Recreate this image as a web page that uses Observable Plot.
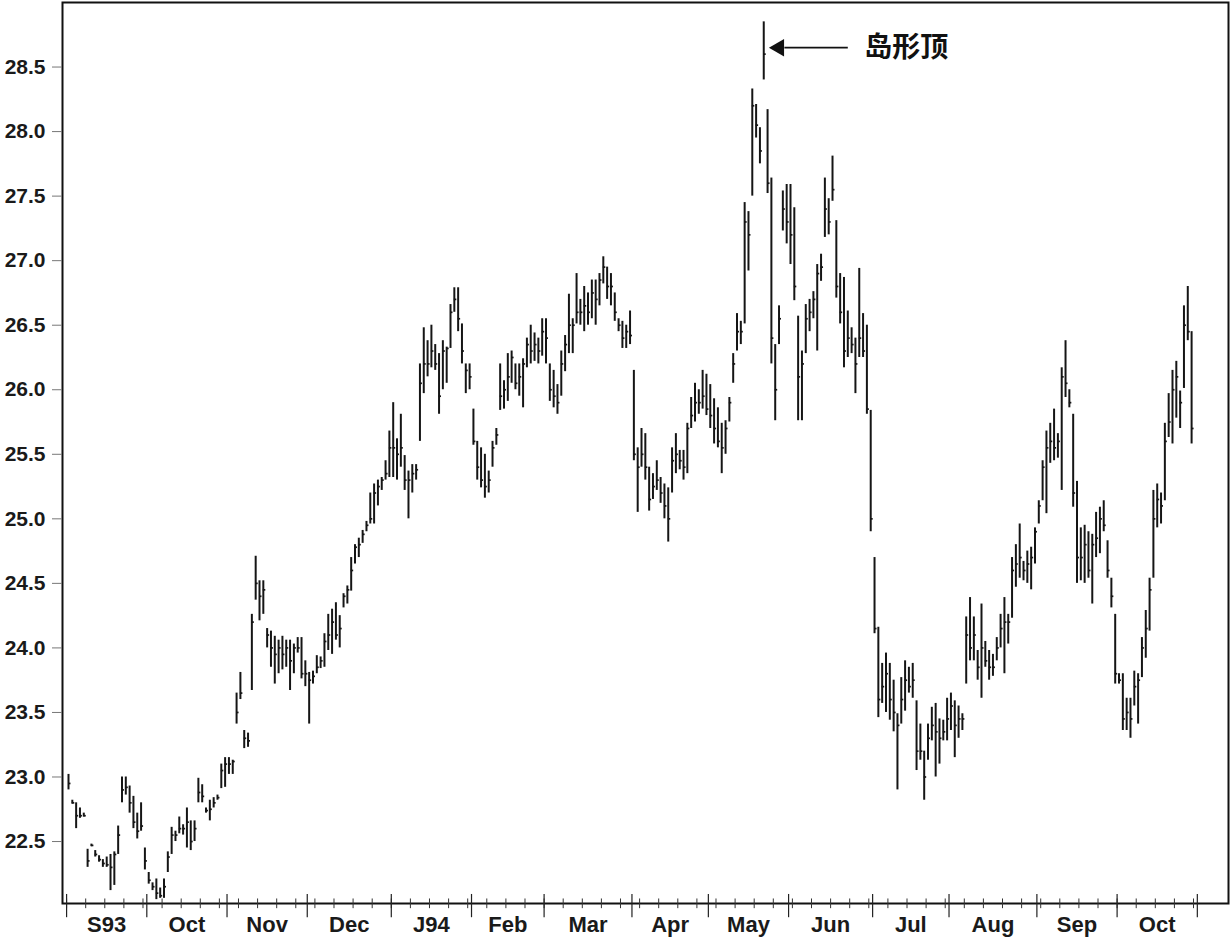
<!DOCTYPE html>
<html>
<head>
<meta charset="utf-8">
<script src="https://cdn.jsdelivr.net/npm/d3@7"></script>
<script src="https://cdn.jsdelivr.net/npm/@observablehq/plot@0.6"></script>
<style>
  html, body { margin: 0; padding: 0; background: #fff; }
  #chart svg { display: block; }
</style>
</head>
<body>
<div id="chart"></div>
<script>
// Month labels and trading days per month (Sep 1993 – Oct 1994)
const monthLabels = ["S93","Oct","Nov","Dec","J94","Feb","Mar","Apr","May","Jun","Jul","Aug","Sep","Oct"];
const monthDays   = [21, 21, 21, 22, 21, 19, 23, 20, 21, 22, 20, 23, 21, 21];
const yTicks = [22.5, 23.0, 23.5, 24.0, 24.5, 25.0, 25.5, 26.0, 26.5, 27.0, 27.5, 28.0, 28.5];

// Daily highs (one row per month)
const high = [
  23.02,22.82,22.80,22.76,22.72,22.44,22.48,22.43,22.39,22.36,22.38,22.40,22.42,22.62,23.00,23.00,22.93,22.85,22.72,22.80,22.45,
  22.26,22.18,22.21,22.14,22.21,22.42,22.61,22.58,22.69,22.63,22.76,22.66,22.66,22.99,22.94,22.76,22.82,22.84,22.86,23.10,23.15,
  23.15,23.13,23.65,23.81,23.36,23.34,24.26,24.71,24.52,24.52,24.15,24.13,24.09,24.06,24.09,24.06,24.06,24.03,24.08,24.08,23.90,
  23.81,23.82,23.94,23.93,24.11,24.26,24.30,24.35,24.25,24.42,24.48,24.70,24.80,24.85,24.91,24.98,25.20,25.27,25.30,25.32,25.45,25.68,
  25.90,25.62,25.81,25.49,25.37,25.42,25.42,26.20,26.48,26.38,26.50,26.35,26.28,26.38,26.33,26.66,26.79,26.79,26.51,26.20,26.20,
  25.85,25.60,25.55,25.50,25.37,25.60,25.70,26.20,26.07,26.28,26.30,26.20,26.20,26.24,26.40,26.50,26.44,26.40,26.55,
  26.55,26.20,26.15,26.04,26.30,26.42,26.74,26.55,26.90,26.70,26.80,26.75,26.85,26.85,26.90,27.03,26.95,26.90,26.75,26.55,26.53,26.50,26.61,
  26.15,25.55,25.70,25.66,25.40,25.35,25.45,25.32,25.27,25.24,25.55,25.66,25.53,25.53,25.74,25.94,26.05,26.00,26.15,26.12,
  26.04,25.93,25.86,25.74,25.76,25.94,26.28,26.59,26.53,27.45,27.38,28.33,28.21,28.03,28.85,28.17,27.64,26.35,26.65,27.54,27.59,
  27.59,27.41,26.57,26.30,26.66,26.70,26.76,26.97,27.05,27.64,27.48,27.81,27.31,26.90,26.87,26.61,26.48,26.40,26.94,26.59,26.50,25.84,
  24.70,24.16,23.88,23.96,23.88,23.75,23.49,23.77,23.90,23.85,23.88,23.59,23.41,23.20,23.41,23.54,23.57,23.45,23.44,23.61,
  23.65,23.59,23.55,23.49,24.24,24.39,24.24,23.98,24.34,24.05,23.98,23.95,24.08,24.26,24.39,24.26,24.70,24.80,24.96,24.67,24.75,24.78,24.93,
  25.14,25.45,25.68,25.74,25.85,25.66,26.17,26.38,26.00,25.81,25.29,24.93,24.95,24.90,24.88,25.05,25.09,25.14,24.83,24.54,24.26,
  23.80,23.80,23.61,23.61,23.82,23.80,24.08,24.29,24.54,25.22,25.27,25.20,25.74,25.97,26.15,26.22,25.99,26.65,26.80,26.45
];
// Daily lows
const low = [
  22.90,22.79,22.60,22.68,22.69,22.30,22.46,22.38,22.34,22.30,22.30,22.12,22.16,22.40,22.80,22.86,22.72,22.60,22.52,22.58,22.28,
  22.17,22.12,22.05,22.06,22.06,22.26,22.40,22.50,22.56,22.55,22.45,22.43,22.50,22.80,22.80,22.72,22.66,22.76,22.82,22.91,22.92,
  23.02,23.02,23.41,23.60,23.22,23.23,23.67,24.37,24.21,24.26,24.00,23.85,23.72,23.80,23.83,23.85,23.67,23.80,23.96,23.76,23.70,
  23.41,23.72,23.80,23.84,23.85,23.98,23.95,24.06,24.00,24.31,24.34,24.44,24.65,24.70,24.81,24.90,24.96,24.96,25.10,25.22,25.30,25.32,
  25.32,25.30,25.40,25.22,25.00,25.20,25.30,25.60,25.97,26.10,26.17,26.15,25.81,26.00,26.05,26.32,26.60,26.45,26.20,25.97,26.00,
  25.57,25.30,25.24,25.16,25.20,25.40,25.57,25.84,25.85,25.91,26.05,26.00,25.95,25.86,26.17,26.20,26.22,26.20,26.26,
  26.20,25.91,25.86,25.81,25.95,26.14,26.28,26.28,26.51,26.50,26.45,26.50,26.55,26.50,26.65,26.82,26.70,26.65,26.53,26.45,26.32,26.32,26.35,
  25.45,25.05,25.40,25.30,25.06,25.15,25.22,25.12,25.00,24.82,25.20,25.35,25.38,25.30,25.35,25.70,25.75,25.81,25.85,25.80,
  25.70,25.58,25.55,25.35,25.50,25.75,26.05,26.30,26.35,26.51,26.92,27.50,27.95,27.75,28.40,27.52,26.20,25.76,26.35,27.23,27.13,
  26.97,26.69,25.76,25.76,26.28,26.45,26.55,26.30,26.84,27.18,27.20,27.46,26.71,26.51,26.17,26.25,26.28,25.97,26.25,26.25,25.81,24.90,
  24.11,23.46,23.57,23.50,23.44,23.35,22.90,23.41,23.51,23.65,23.61,23.05,23.13,22.82,23.13,23.28,23.00,23.10,23.28,23.28,
  23.36,23.15,23.30,23.36,23.72,23.90,23.90,23.75,23.61,23.85,23.75,23.78,23.90,24.00,23.80,24.03,24.23,24.47,24.54,24.52,24.50,24.45,24.65,
  24.96,25.14,25.04,25.43,25.45,25.47,25.22,25.94,25.86,25.09,24.50,24.52,24.50,24.54,24.34,24.70,24.73,24.90,24.54,24.31,23.72,
  23.72,23.36,23.36,23.30,23.55,23.41,23.77,23.92,24.13,24.54,24.93,24.96,25.14,25.63,25.58,25.78,25.70,26.01,26.38,25.58
];
// Daily closes
const close = [
  22.95,22.80,22.70,22.70,22.70,22.35,22.47,22.40,22.36,22.33,22.32,22.30,22.40,22.55,22.90,22.92,22.80,22.65,22.58,22.62,22.35,
  22.20,22.15,22.10,22.08,22.15,22.38,22.55,22.55,22.60,22.60,22.65,22.50,22.60,22.88,22.85,22.74,22.75,22.80,22.84,23.05,23.10,
  23.10,23.12,23.50,23.65,23.30,23.28,24.20,24.50,24.40,24.45,24.10,24.00,23.95,24.00,23.95,24.00,23.90,24.00,24.00,23.80,23.80,
  23.75,23.78,23.85,23.90,24.05,24.10,24.20,24.10,24.15,24.40,24.45,24.60,24.78,24.80,24.88,24.95,25.00,25.20,25.25,25.30,25.35,25.55,
  25.55,25.50,25.55,25.30,25.30,25.35,25.38,26.05,26.20,26.20,26.30,26.20,25.95,26.30,26.32,26.60,26.70,26.55,26.30,26.15,26.10,
  25.60,25.40,25.30,25.25,25.30,25.55,25.65,25.95,26.00,26.10,26.25,26.05,26.10,26.20,26.35,26.30,26.35,26.30,26.45,
  26.40,26.00,25.95,25.90,26.20,26.35,26.50,26.50,26.60,26.60,26.65,26.60,26.75,26.70,26.85,26.95,26.80,26.80,26.60,26.50,26.40,26.45,26.42,
  25.50,25.40,25.50,25.40,25.15,25.25,25.30,25.20,25.10,25.00,25.45,25.50,25.45,25.40,25.70,25.80,25.90,25.90,25.95,25.85,
  25.80,25.70,25.60,25.55,25.70,25.90,26.20,26.45,26.45,27.30,27.20,28.20,28.05,27.85,28.60,27.60,26.40,26.00,26.55,27.40,27.30,
  27.20,26.80,26.10,26.20,26.55,26.60,26.70,26.90,26.95,27.40,27.30,27.55,26.80,26.60,26.30,26.40,26.35,26.20,26.40,26.30,25.85,25.00,
  24.15,23.60,23.70,23.80,23.60,23.50,23.40,23.60,23.75,23.70,23.75,23.20,23.20,23.00,23.30,23.40,23.35,23.30,23.35,23.45,
  23.55,23.40,23.45,23.45,24.10,24.00,24.10,23.85,24.00,23.90,23.85,23.85,24.00,24.15,24.20,24.20,24.60,24.65,24.70,24.60,24.65,24.70,24.90,
  25.10,25.40,25.55,25.60,25.55,25.60,26.10,26.05,25.90,25.20,24.70,24.70,24.80,24.60,24.80,24.85,25.00,24.95,24.60,24.40,23.80,
  23.75,23.45,23.50,23.45,23.70,23.75,24.00,24.15,24.45,25.00,25.15,25.10,25.60,25.75,26.00,26.10,25.90,26.50,26.45,25.70
];

// Annotation: the island-top bar and its label
const island = { day: 182, label: "岛形顶" };

// ---- derived tables ----
const bars = high.map((h, i) => ({ i, high: h, low: low[i], close: close[i] }));
const starts = [];
{ let s = 0; for (const n of monthDays) { starts.push(s); s += n; } starts.push(s); }
const monthTicks = starts.map(s => s - 0.5);
const months = monthLabels.map((label, k) => ({ label, mid: starts[k] + monthDays[k] / 2 - 0.5 }));
const weekTicks = d3.range(-0.5, starts[starts.length - 1], 5);
const islandHigh = high[island.day];
const ann = [{
  x1: island.day + 22, x2: island.day + 2.4, y: islandHigh - 0.2,
  tx: island.day + 26.3, label: island.label
}];

const yMin = 22.02, yMax = 29.0;

const chart = Plot.plot({
  width: 1232,
  height: 940,
  marginLeft: 62,
  marginRight: 4,
  marginTop: 2,
  marginBottom: 37,
  x: { domain: [-1.57, 303.66], axis: null },
  y: { domain: [yMin, yMax], axis: null },
  style: { fontFamily: "'Liberation Sans', Arial, sans-serif", color: "#111", background: "#fff" },
  marks: [
    Plot.ruleX(bars, { x: "i", y1: "low", y2: "high", stroke: "#151515", strokeWidth: 2 }),
    Plot.ruleY(bars, { y: "close", x1: "i", x2: d => d.i + 0.65, stroke: "#151515", strokeWidth: 1.7 }),
    Plot.frame({ stroke: "#111", strokeWidth: 2 }),
    Plot.axisY(yTicks, {
      anchor: "left", tickSize: 10, tickPadding: 7, stroke: "#777", strokeWidth: 1,
      tickFormat: d => d.toFixed(1), fontSize: 21, fontWeight: "bold", fill: "#1a1a1a", label: null
    }),
    Plot.ruleX(weekTicks, { x: d => d, y1: yMin - 0.04, y2: yMin + 0.035, stroke: "#333", strokeWidth: 1 }),
    Plot.ruleX(monthTicks, { x: d => d, y1: yMin - 0.11, y2: yMin + 0.07, stroke: "#222", strokeWidth: 1.2 }),
    Plot.text(months, { x: "mid", y: yMin, dy: 21, text: "label", fontSize: 22, fontWeight: "bold", fill: "#1a1a1a" }),
    Plot.link(ann, { x1: "x1", x2: d => d.x2 + 3, y1: "y", y2: "y", stroke: "#111", strokeWidth: 1.8 }),
    Plot.dot(ann, { x: d => d.x2 + 1.6, y: "y", symbol: "triangle", r: 6.5, fill: "#111", stroke: "none", rotate: -90 }),
    Plot.text(ann, { x: "tx", y: "y", text: "label", textAnchor: "start", fontSize: 28, fontWeight: "bold",
      fontFamily: "'Noto Sans CJK SC', sans-serif", fill: "#111" })
  ]
});
document.getElementById("chart").appendChild(chart);
</script>
</body>
</html>
